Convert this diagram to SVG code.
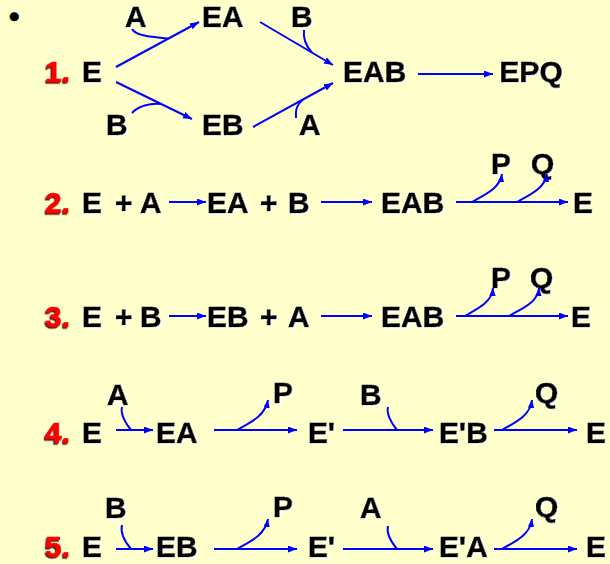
<svg xmlns="http://www.w3.org/2000/svg" width="610" height="564" viewBox="0 0 610 564">
<defs>
<filter id="lt" x="-10%" y="-10%" width="130%" height="130%"><feDropShadow dx="1.5" dy="1.5" stdDeviation="0.3" flood-color="#ffffff" flood-opacity="0.9"/></filter>
<filter id="dk" x="-20%" y="-10%" width="140%" height="140%"><feDropShadow dx="-1.2" dy="1.5" stdDeviation="0.2" flood-color="#200000" flood-opacity="0.9"/></filter>
<marker id="ah" markerUnits="userSpaceOnUse" markerWidth="10" markerHeight="8" refX="9" refY="3.5" orient="auto"><path d="M0,0 L9,3.5 L0,7 z" fill="#0000FF"/></marker>
<marker id="as" markerUnits="userSpaceOnUse" markerWidth="9" markerHeight="8" refX="8" refY="3.2" orient="auto"><path d="M0,0 L8,3.2 L0,6.4 z" fill="#0000FF"/></marker>
</defs>
<style>
text{font-family:"Liberation Sans",Arial,sans-serif;font-weight:bold;font-size:30px;fill:#000;stroke:#000;stroke-width:0.6}
.t{filter:url(#lt)}
.n{fill:#FF0000;stroke:#FF0000;filter:url(#dk)}
.c path{fill:none;stroke:#0000FF;stroke-width:2}
.c .m{marker-end:url(#ah)}
.c .s{marker-end:url(#as)}
</style>
<rect width="610" height="564" fill="#FFFFCC"/>
<text x="9" y="27">•</text>

<!-- row 1 -->
<g id="num1"><text class="n" x="45" y="82">1.</text></g>
<g id="r1-E" class="t"><text x="82" y="82">E</text></g>
<g id="r1-A-top" class="t"><text x="125" y="27">A</text></g>
<g id="r1-EA" class="t"><text x="202" y="27">EA</text></g>
<g id="r1-B-top" class="t"><text x="291" y="27">B</text></g>
<g id="r1-B-bot" class="t"><text x="106" y="135">B</text></g>
<g id="r1-EB" class="t"><text x="202" y="135">EB</text></g>
<g id="r1-A-bot" class="t"><text x="299" y="135">A</text></g>
<g id="r1-EAB" class="t"><text x="343" y="82">EAB</text></g>
<g id="r1-EPQ" class="t"><text x="499.5" y="82">EPQ</text></g>

<!-- row 2 -->
<g id="num2"><text class="n" x="45" y="213">2.</text></g>
<g id="r2-EA-in" class="t"><text y="213"><tspan x="82">E</tspan><tspan x="115">+</tspan><tspan x="140">A</tspan></text></g>
<g id="r2-EAB-in" class="t"><text y="213"><tspan x="207">EA</tspan><tspan x="260">+</tspan><tspan x="288">B</tspan></text></g>
<g id="r2-EAB" class="t"><text x="381" y="213">EAB</text></g>
<g id="r2-E" class="t"><text x="573" y="213">E</text></g>
<g id="r2-P" class="t"><text x="491" y="174">P</text></g>
<g id="r2-Q" class="t"><text x="531" y="174">Q</text></g>

<!-- row 3 -->
<g id="num3"><text class="n" x="45" y="327">3.</text></g>
<g id="r3-EB-in" class="t"><text y="327"><tspan x="82">E</tspan><tspan x="115">+</tspan><tspan x="140">B</tspan></text></g>
<g id="r3-EBA-in" class="t"><text y="327"><tspan x="207">EB</tspan><tspan x="260">+</tspan><tspan x="288">A</tspan></text></g>
<g id="r3-EAB" class="t"><text x="381" y="327">EAB</text></g>
<g id="r3-E" class="t"><text x="571" y="327">E</text></g>
<g id="r3-P" class="t"><text x="491" y="288">P</text></g>
<g id="r3-Q" class="t"><text x="530" y="288">Q</text></g>

<!-- row 4 -->
<g id="num4"><text class="n" x="45" y="443">4.</text></g>
<g id="r4-E" class="t"><text x="82" y="443">E</text></g>
<g id="r4-A" class="t"><text x="107" y="405">A</text></g>
<g id="r4-EA" class="t"><text x="156" y="443">EA</text></g>
<g id="r4-P" class="t"><text x="273" y="403">P</text></g>
<g id="r4-Ep" class="t"><text x="308" y="443">E'</text></g>
<g id="r4-B" class="t"><text x="360" y="405">B</text></g>
<g id="r4-EpB" class="t"><text x="439" y="443">E'B</text></g>
<g id="r4-Q" class="t"><text x="535" y="403">Q</text></g>
<g id="r4-E2" class="t"><text x="586" y="443">E</text></g>

<!-- row 5 -->
<g id="num5"><text class="n" x="45" y="557">5.</text></g>
<g id="r5-E" class="t"><text x="82" y="557">E</text></g>
<g id="r5-B" class="t"><text x="105" y="518">B</text></g>
<g id="r5-EB" class="t"><text x="156" y="557">EB</text></g>
<g id="r5-P" class="t"><text x="273" y="517">P</text></g>
<g id="r5-Ep" class="t"><text x="308" y="557">E'</text></g>
<g id="r5-A" class="t"><text x="360" y="518">A</text></g>
<g id="r5-EpA" class="t"><text x="439" y="557">E'A</text></g>
<g id="r5-Q" class="t"><text x="535" y="517">Q</text></g>
<g id="r5-E2" class="t"><text x="586" y="557">E</text></g>

<g id="connectors" class="c">
<!-- row 1 -->
<path class="m" d="M116,67 L199,22"/>
<path d="M132,29 C136,36 152,37 168,38.5"/>
<path class="m" d="M116,82 L192,119"/>
<path d="M132,113 C138,106 150,103 161,104"/>
<path class="m" d="M260,22 L333,65"/>
<path d="M304,30 C303,38 306,46 312,52.6"/>
<path class="m" d="M253,127 L333,83"/>
<path d="M296,118 C295,110 297,104 303,99.5"/>
<path class="m" d="M418,74 L493,74"/>
<!-- row 2 -->
<path class="m" d="M169,202 L206,202"/>
<path class="m" d="M321,202 L372,202"/>
<path class="m" d="M456,202 L568,202"/>
<path class="s" d="M472,202 C486,194 500,188 502,174"/>
<path class="s" d="M517,202 C531,194 545,188 547,174"/>
<!-- row 3 -->
<path class="m" d="M169,316 L206,316"/>
<path class="m" d="M321,316 L372,316"/>
<path class="m" d="M456,316 L568,316"/>
<path class="s" d="M465,316 C479,308 492,302 493,288"/>
<path class="s" d="M509,316 C523,308 538,302 539,288"/>
<!-- row 4 -->
<path class="m" d="M116,430 L153,430"/>
<path d="M122,407 C120,414 126,424 131,430"/>
<path class="m" d="M214,430 L297,430"/>
<path class="s" d="M237,430 C251,422 265,416 268,400"/>
<path class="m" d="M343,430 L433,430"/>
<path d="M388,407 C386,414 392,424 397,430"/>
<path class="m" d="M494,430 L577,430"/>
<path class="s" d="M502,430 C516,422 530,416 532,400"/>
<!-- row 5 -->
<path class="m" d="M116,549 L153,549"/>
<path d="M122,525 C120,533 126,543 131,549"/>
<path class="m" d="M214,549 L297,549"/>
<path class="s" d="M237,549 C251,541 265,535 268,519"/>
<path class="m" d="M343,549 L433,549"/>
<path d="M388,526 C386,534 392,543 397,549"/>
<path class="m" d="M494,549 L577,549"/>
<path class="s" d="M502,549 C516,541 530,535 532,519"/>
</g>
</svg>
